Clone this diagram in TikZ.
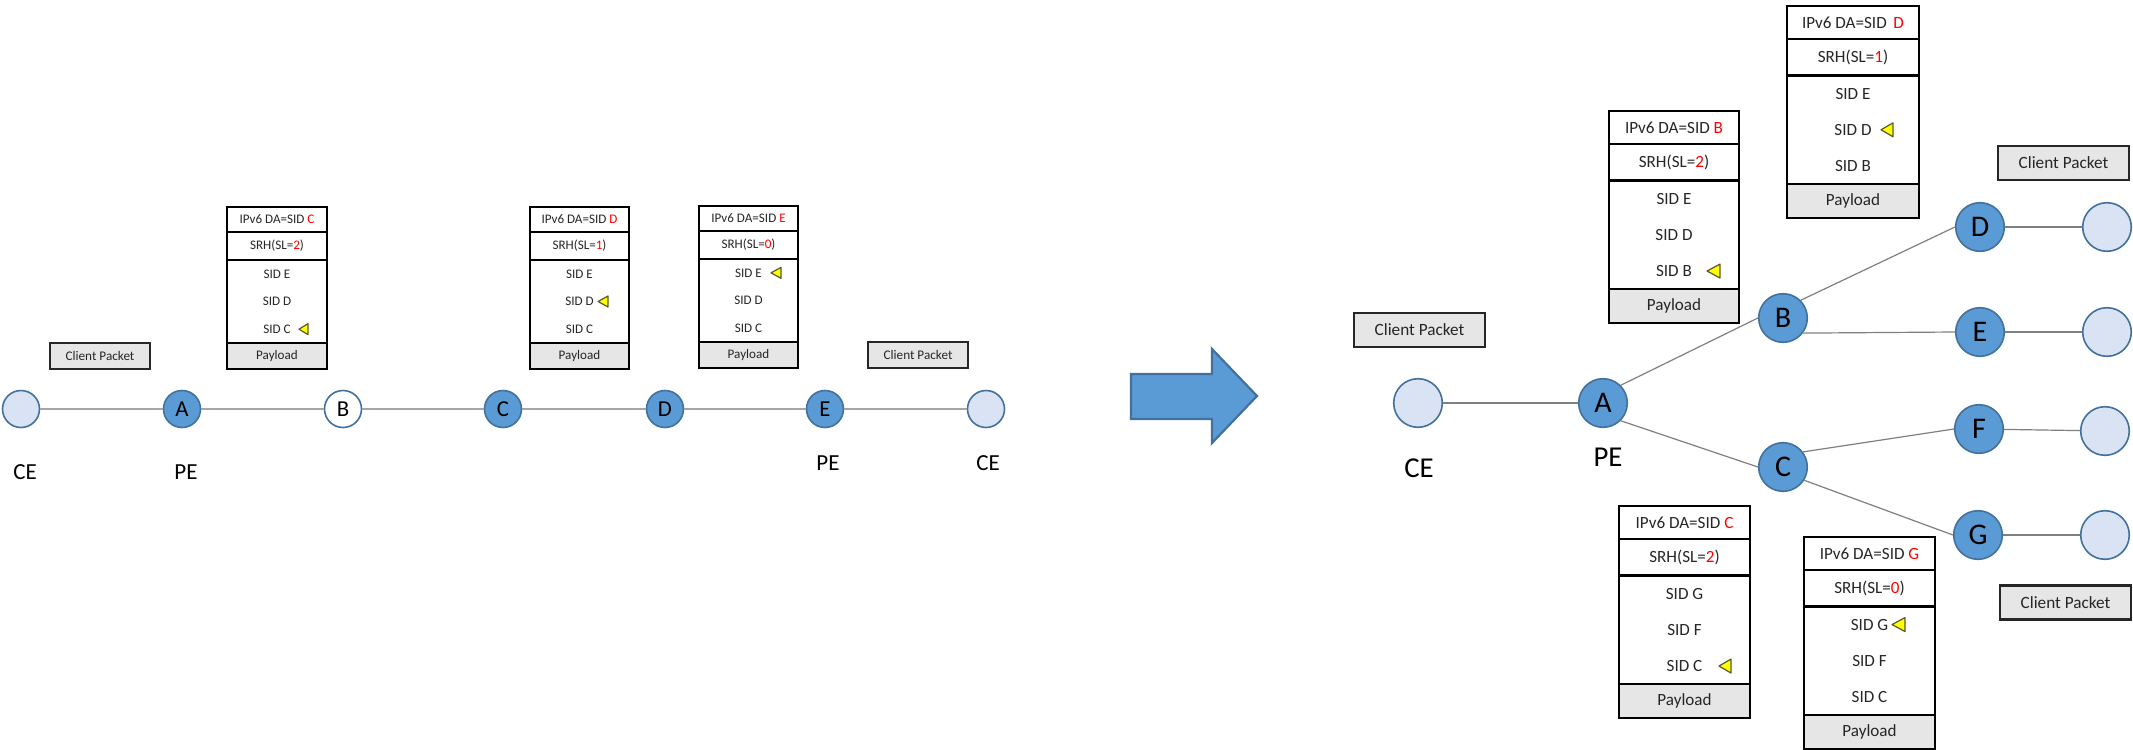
\documentclass[tikz,border=0pt]{standalone}
\usepackage{fontspec}
\setmainfont{Carlito}
\usetikzlibrary{calc}

\definecolor{nodeblue}{HTML}{5B9BD5}
\definecolor{nodeedge}{HTML}{41719C}
\definecolor{celight}{HTML}{DAE3F3}
\definecolor{pktgray}{HTML}{E6E6E6}
\definecolor{linkgray}{HTML}{A6A6A6}
\definecolor{linkdark}{HTML}{7F7F7F}
\definecolor{ptryellow}{HTML}{FFFF00}
\definecolor{ptredge}{HTML}{5A5A28}
\definecolor{sidred}{HTML}{FF0000}

% Packet stack: #1 name, #2 left x, #3 right x, #4 top y, #5 row scale,
% #6 font size (pt), #7 DA letter, #8 SL value, #9 SID list
\newcommand\pktstack[9]{%
  \pgfmathsetmacro\yA{#4+25*#5}%
  \pgfmathsetmacro\yB{\yA+28*#5}%
  \pgfmathsetmacro\yC{\yB+83*#5}%
  \pgfmathsetmacro\yD{\yC+26*#5}%
  \pgfmathsetmacro\xM{(#2+#3)/2}%
  \pgfmathsetmacro\lw{0.95*#5}%
  \def\fs{#6}%
  \draw[line width=\lw pt, fill=pktgray] (#2,\yC) rectangle (#3,\yD);
  \draw[line width=\lw pt] (#2,#4) rectangle (#3,\yC);
  \draw[line width=\lw pt] (#2,\yA) -- (#3,\yA) (#2,\yB) -- (#3,\yB);
  \node[stktxt] (#1-da) at (\xM,{(#4+\yA)/2}) {IPv6 DA=SID {\color{sidred}#7}};
  \node[stktxt] (#1-sl) at (\xM,{(\yA+\yB)/2}) {SRH(SL={\color{sidred}#8})};
  \foreach \s [count=\i] in {#9}
    \node[stktxt] (#1-s\i) at (\xM,{\yB+(2*\i-1)*83*#5/6}) {SID \s};
  \node[stktxt] (#1-pl) at (\xM,{(\yC+\yD)/2}) {Payload};
}

% Yellow pointer marking the active segment: #1 SID node, #2 offset, #3 width, #4 height
\newcommand\ptr[4]{%
  \draw[ptrstyle] ($(#1)+(#2,0)$) -- ++(#3,{-#4/2}) -- ++(0,#4) -- cycle;
}

\begin{document}
\begin{tikzpicture}[x=0.5pt,y=-0.5pt,
  stktxt/.style={inner sep=0, text=black!85, font=\fontsize{\fs}{\fs}\selectfont},
  ptrstyle/.style={fill=ptryellow, draw=ptredge, line width=0.6pt, line join=round},
  pe/.style={circle, draw=nodeedge, fill=nodeblue, line width=0.8pt, inner sep=0,
    minimum size=18.5pt, font=\fontsize{11.4}{11.4}\selectfont},
  wnode/.style={pe, fill=white},
  ce/.style={pe, fill=celight},
  bigpe/.style={pe, minimum size=24.3pt, font=\fontsize{15}{15}\selectfont},
  bigce/.style={bigpe, fill=celight},
  lbl/.style={inner sep=0, font=\fontsize{11.5}{11.5}\selectfont},
  biglbl/.style={inner sep=0, font=\fontsize{14.4}{14.4}\selectfont},
  cpkt/.style={draw=black!85, fill=pktgray, line width=0.95pt, inner sep=0,
    minimum width=50pt, minimum height=13pt, text=black!85,
    font=\fontsize{6.6}{6.6}\selectfont},
  bigcpkt/.style={cpkt, line width=1.2pt, minimum width=65.5pt, minimum height=17pt,
    font=\fontsize{8.6}{8.6}\selectfont},
  link/.style={draw=linkgray, line width=0.85pt},
  biglink/.style={draw=linkdark, line width=0.6pt},
  bigarrow/.style={fill=nodeblue, draw=nodeedge, line width=1.1pt, line join=miter}]

\useasboundingbox (0,0) rectangle (2133,750);

% ---------------- linear path ----------------
\node[ce]    (lCE1) at (21,409) {};
\node[pe]    (lA)   at (182,409) {A};
\node[wnode] (lB)   at (343,409) {B};
\node[pe]    (lC)   at (503,409) {C};
\node[pe]    (lD)   at (665,409) {D};
\node[pe]    (lE)   at (825,409) {E};
\node[ce]    (lCE2) at (986,409) {};

\draw[link] (lCE1) -- (lA);
\draw[link] (lA) -- (lB);
\draw[link] (lB) -- (lC);
\draw[link] (lC) -- (lD);
\draw[link] (lD) -- (lE);
\draw[link] (lE) -- (lCE2);

\node[lbl] (lCElbl1) at (25,472) {CE};
\node[lbl] (lPElbl1) at (186,472) {PE};
\node[lbl] (lPElbl2) at (828,463) {PE};
\node[lbl] (lCElbl2) at (988,463) {CE};

\node[cpkt] (lPkt1) at (100,356) {Client Packet};
\node[cpkt] (lPkt2) at (918,355) {Client Packet};

\pktstack{sC}{227}{327}{207}{1}{6.55}{C}{2}{E,D,C}
\pktstack{sD}{530}{629}{207}{1}{6.55}{D}{1}{E,D,C}
\pktstack{sE}{699}{798}{206}{1}{6.55}{E}{0}{E,D,C}
\ptr{sC-s3}{22}{9}{11}
\ptr{sD-s2}{18.5}{10}{11}
\ptr{sE-s1}{22.5}{10}{11}

% ---------------- transition arrow ----------------
\draw[bigarrow] (1131,374) -- (1212,374) -- (1212,349) -- (1257,396)
  -- (1212,443) -- (1212,419) -- (1131,419) -- cycle;

% ---------------- tree ----------------
\node[bigce] (rCE) at (1418,403) {};
\node[bigpe] (rA) at (1603,403) {A};
\node[bigpe] (rB) at (1783,318) {B};
\node[bigpe] (rC) at (1783,467) {C};
\node[bigpe] (rD) at (1980,227) {D};
\node[bigpe] (rE) at (1980,332) {E};
\node[bigpe] (rF) at (1979,429) {F};
\node[bigpe] (rG) at (1978,535) {G};
\node[bigce] (ceD) at (2107,227) {};
\node[bigce] (ceE) at (2107,332) {};
\node[bigce] (ceF) at (2105,431) {};
\node[bigce] (ceG) at (2105,535) {};

\draw[biglink] (rCE) -- (rA);
\draw[biglink] (rA.north east) -- (rB.west);
\draw[biglink] (rA.south east) -- (rC.west);
\draw[biglink] (rB.north east) -- (rD.west);
\draw[biglink] (rB.-37) -- (rE.west);
\draw[biglink] (rC.37) -- (rF.west);
\draw[biglink] (rC.-32) -- (rG.west);
\draw[biglink] (rD) -- (ceD);
\draw[biglink] (rE) -- (ceE);
\draw[biglink] (rF) -- (ceF);
\draw[biglink] (rG) -- (ceG);

\node[biglbl] (rCElbl) at (1419,468) {CE};
\node[biglbl] (rPElbl) at (1608,457) {PE};

\node[bigcpkt] (rPkt0) at (1419.5,330) {Client Packet};
\node[bigcpkt] (rPkt1) at (2063.5,163) {Client Packet};
\node[bigcpkt] (rPkt2) at (2065.5,602.5) {Client Packet};

\pktstack{tB}{1609}{1739}{111}{1.31}{8.55}{B}{2}{E,D,B}
\pktstack{tD}{1787}{1919}{6}{1.31}{8.55}{\,D}{1}{E,D,B}
\pktstack{tC}{1619}{1750}{506}{1.31}{8.55}{C}{2}{G,F,C}
\pktstack{tG}{1804}{1935}{537}{1.31}{8.55}{G}{0}{G,F,C}
\ptr{tB-s3}{33}{13}{14}
\ptr{tD-s2}{28}{12}{14}
\ptr{tC-s3}{34.5}{12}{14}
\ptr{tG-s1}{22.5}{13}{14}

\end{tikzpicture}
\end{document}
